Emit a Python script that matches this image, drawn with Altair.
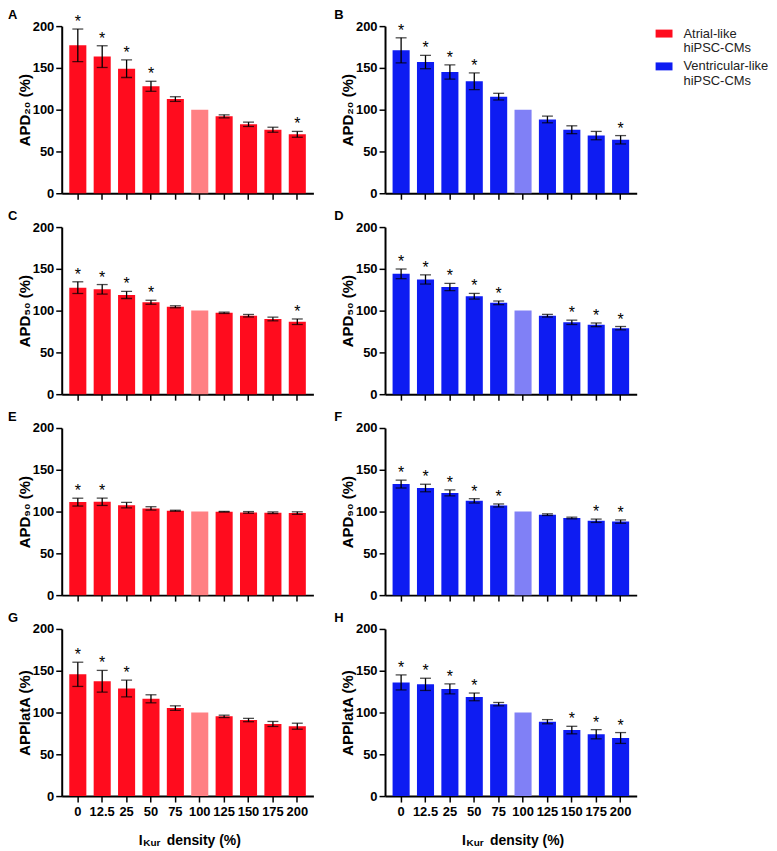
import altair as alt
import pandas as pd

FONT = "Liberation Sans"

x_labels = ["0", "12.5", "25", "50", "75", "100", "125", "150", "175", "200"]

# A: APD20, atrial-like
a_mean = [177, 163.5, 149, 128, 112.7, 100, 92, 82.5, 76, 70.5]
a_err = [19.5, 13, 10.5, 6, 2.8, 0, 1.8, 2.6, 3, 3.5]
a_star = [1, 1, 1, 1, 0, 0, 0, 0, 0, 1]
# B: APD20, ventricular-like
b_mean = [171, 157, 145, 134, 115.6, 100, 88.3, 76, 69, 64]
b_err = [15, 8, 8.5, 10, 4, 0, 4, 4.7, 5, 5]
b_star = [1, 1, 1, 1, 0, 0, 0, 0, 0, 1]
# C: APD50, atrial-like
c_mean = [127.5, 125.5, 118.8, 110, 104.6, 100, 97.4, 93.9, 90, 86.7]
c_err = [7, 5.7, 4.3, 2.4, 1.2, 0, 0.8, 1.5, 2.2, 3.3]
c_star = [1, 1, 1, 1, 0, 0, 0, 0, 0, 1]
# D: APD50, ventricular-like
d_mean = [144, 137.3, 128.2, 117.2, 109.3, 100, 93.9, 86, 83, 79]
d_err = [5.8, 5.5, 4.3, 3.4, 2.2, 0, 1.6, 2.6, 2.2, 2]
d_star = [1, 1, 1, 1, 1, 0, 0, 1, 1, 1]
# E: APD90, atrial-like
e_mean = [111.3, 111.7, 107.7, 103.8, 101, 100, 99.8, 99, 98.6, 98.2]
e_err = [4.7, 4.4, 3.2, 2, 0.6, 0, 0.4, 1, 1, 1.5]
e_star = [1, 1, 0, 0, 0, 0, 0, 0, 0, 0]
# F: APD90, ventricular-like
f_mean = [132.9, 128.2, 122.3, 112.8, 107.3, 100, 96.3, 92.3, 89, 88]
f_err = [4.7, 4.5, 3.6, 2.6, 1.8, 0, 1, 1, 2, 2]
f_star = [1, 1, 1, 1, 1, 0, 0, 0, 1, 1]
# G: APPlatA, atrial-like
g_mean = [145.7, 137.4, 128.7, 116.4, 105.3, 100, 95.4, 91, 86.3, 83.6]
g_err = [14.5, 13, 10, 4.8, 2.7, 0, 1.4, 2, 3, 3.6]
g_star = [1, 1, 1, 0, 0, 0, 0, 0, 0, 0]
# H: APPlatA, ventricular-like
h_mean = [136, 133.7, 128.2, 118.7, 110, 100, 89, 79, 74, 69.5]
h_err = [9, 7.3, 6, 4.6, 2, 0, 2.5, 4.5, 5.5, 6.5]
h_star = [1, 1, 1, 1, 0, 0, 0, 1, 1, 1]

groups = ["Atrial-like hiPSC-CMs", "Ventricular-like hiPSC-CMs"]
color_domain = groups + ["Atrial control", "Ventricular control"]
color_range = ["#FF0C1E", "#0E1CF2", "#FF8083", "#8080F6"]

W, H = 253, 168


def panel(letter, ytitle, means, errs, stars, group, bottom, left):
    light = "Atrial control" if group == groups[0] else "Ventricular control"
    df = pd.DataFrame({"x": x_labels, "mean": means, "err": errs, "star": stars})
    df["lo"] = df["mean"] - df["err"]
    df["hi"] = df["mean"] + df["err"]
    df["col"] = [light if v == "100" else group for v in x_labels]
    df["s"] = ["*" if s else "" for s in stars]
    base = alt.Chart(df)

    xaxis = alt.Axis(labels=bottom, title=None, labelAngle=0, ticks=True, labelPadding=4)
    x_main = alt.X("x:N", sort=x_labels, title=None,
                   scale=alt.Scale(paddingInner=0.3, paddingOuter=0.31), axis=xaxis)
    x_sec = alt.X("x:N", sort=x_labels, title=None)

    bars = base.mark_bar().encode(
        x=x_main,
        y=alt.Y("mean:Q", title=ytitle,
                scale=alt.Scale(domain=[0, 200], nice=False),
                axis=alt.Axis(values=[0, 50, 100, 150, 200], titlePadding=0)),
        color=alt.Color("col:N", scale=alt.Scale(domain=color_domain, range=color_range),
                        legend=alt.Legend(values=groups, title=None,
                                          labelExpr="split(datum.label, ' ')",
                                          symbolType="M-1,-0.47H1V0.47H-1Z",
                                          symbolSize=289, symbolStrokeWidth=0,
                                          orient="none", legendX=597, legendY=-1)),
    )
    eb = base.transform_filter("datum.err > 0")
    rule = eb.mark_rule(color="black", strokeWidth=1.3).encode(
        x=x_sec, y=alt.Y("lo:Q", title=ytitle), y2="hi:Q")
    cap_lo = eb.mark_tick(color="black", thickness=1.3, size=11).encode(
        x=x_sec, y=alt.Y("lo:Q", title=ytitle))
    cap_hi = eb.mark_tick(color="black", thickness=1.3, size=11).encode(
        x=x_sec, y=alt.Y("hi:Q", title=ytitle))
    star = base.transform_filter("datum.star == 1").mark_text(
        font=FONT, fontSize=16, baseline="alphabetic", dy=-2, color="black").encode(
        x=x_sec, y=alt.Y("hi:Q", title=ytitle), text="s:N")
    one = alt.Chart(pd.DataFrame({"k": [0]}))
    tag = one.mark_text(text=letter, font=FONT, fontSize=13, fontWeight="bold",
                        align="left", baseline="alphabetic", color="black").encode(
        x=alt.value(-54 if left else -51), y=alt.value(-7))
    layers = [bars, rule, cap_lo, cap_hi, star, tag]
    if bottom:
        ty = H + 45
        layers.append(one.mark_text(text="I", font=FONT, fontSize=14, fontWeight="bold",
                                    align="left", baseline="middle", color="black")
                      .encode(x=alt.value(W / 2 - 49), y=alt.value(ty)))
        layers.append(one.mark_text(text="Kur", font=FONT, fontSize=10, fontWeight="bold",
                                    align="left", baseline="middle", color="black")
                      .encode(x=alt.value(W / 2 - 44.5), y=alt.value(ty + 2)))
        layers.append(one.mark_text(text="density (%)", font=FONT, fontSize=14,
                                    fontWeight="bold", align="left", baseline="middle",
                                    color="black")
                      .encode(x=alt.value(W / 2 - 21), y=alt.value(ty)))
    return alt.layer(*layers).properties(width=W, height=H)


specs = [
    ("A", "APD₂₀ (%)", a_mean, a_err, a_star, "B", "APD₂₀ (%)", b_mean, b_err, b_star),
    ("C", "APD₅₀ (%)", c_mean, c_err, c_star, "D", "APD₅₀ (%)", d_mean, d_err, d_star),
    ("E", "APD₉₀ (%)", e_mean, e_err, e_star, "F", "APD₉₀ (%)", f_mean, f_err, f_star),
    ("G", "APPlatA (%)", g_mean, g_err, g_star, "H", "APPlatA (%)", h_mean, h_err, h_star),
]

panels = []
for i, (l1, t1, m1, e1, s1, l2, t2, m2, e2, s2) in enumerate(specs):
    bottom = i == len(specs) - 1
    panels.append(panel(l1, t1, m1, e1, s1, groups[0], bottom, True))
    panels.append(panel(l2, t2, m2, e2, s2, groups[1], bottom, False))

chart = alt.concat(*panels, columns=2, spacing={"row": 34, "column": 72},
                   bounds="flush").properties(
    padding={"left": 0, "top": -1, "right": 0, "bottom": 0}
).configure_view(stroke=None).configure_axis(
    domainColor="black", domainWidth=2, tickColor="black", tickWidth=1.5, tickSize=6,
    labelColor="black", labelFont=FONT, labelFontSize=13, labelFontWeight="bold",
    labelPadding=2, titleColor="black", titleFont=FONT, titleFontSize=15,
    titleFontWeight="bold", grid=False,
).configure_legend(
    padding=0, labelFont=FONT, labelFontSize=13,
    labelColor="#222222", labelOffset=11, rowPadding=2,
)

chart.save("out.html", embed_options={"renderer": "svg", "actions": False})
